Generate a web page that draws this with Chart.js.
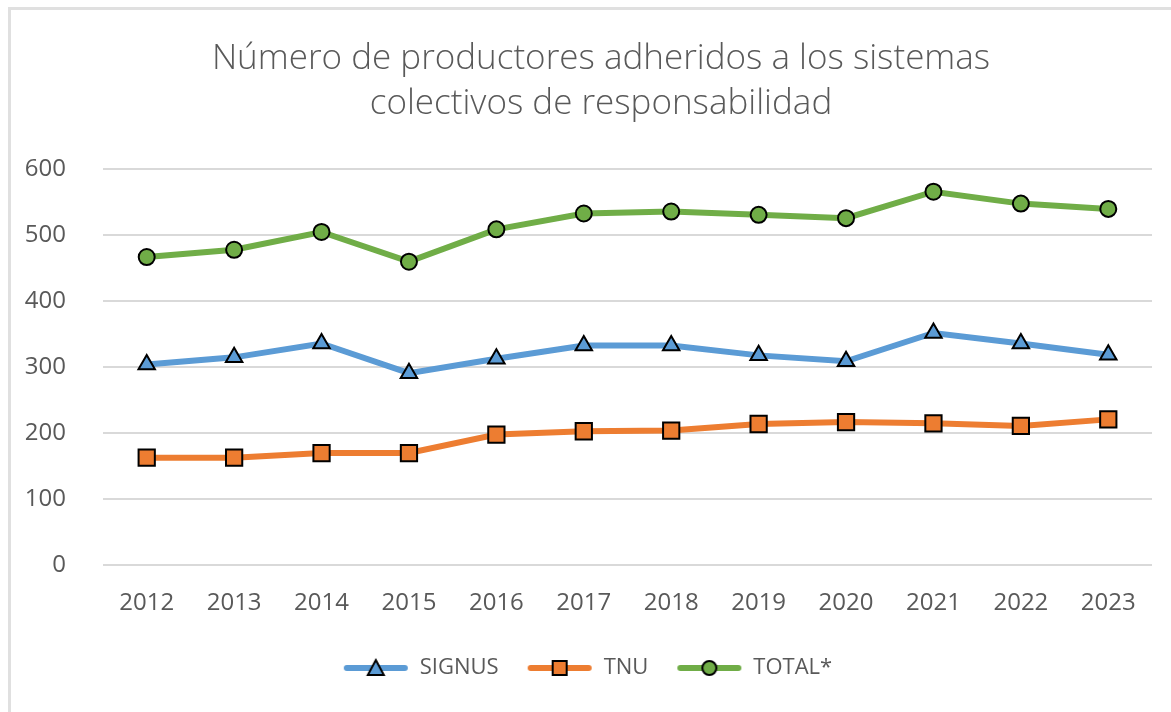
<!DOCTYPE html>
<html>
<head>
<meta charset="utf-8">
<script src="https://cdn.jsdelivr.net/npm/chart.js@4.4.1/dist/chart.umd.min.js"></script>
<style>
  body { margin: 0; background: #fff; }
  #frame {
    position: absolute; left: 8px; top: 7px; width: 1163px; height: 705px;
    border-top: 3px solid #e0e0e0; border-left: 3px solid #e0e0e0;
  }
  #wrap { position: absolute; left: 0; top: 0; width: 1171px; height: 712px; }
</style>
</head>
<body>
<div id="frame"></div>
<div id="wrap"><canvas id="chart"></canvas></div>
<script>
const years = ['2012', '2013', '2014', '2015', '2016', '2017', '2018', '2019', '2020', '2021', '2022', '2023'];
const signus = [304, 315, 336, 291, 313, 333, 333, 318, 309, 352, 336, 319];
const tnu = [163, 163, 170, 170, 198, 203, 204, 214, 217, 215, 211, 221];
const total = [467, 478, 505, 460, 509, 533, 536, 531, 526, 566, 548, 540];
const yTicks = [0, 100, 200, 300, 400, 500, 600];

const GREY = '#595959';
const FONT = "'Open Sans', sans-serif";
const ICON_W = 79; // 13px empty margin on the left, then the 66px line

// legend icon: a short line with the marker on top, like the spreadsheet legend
function legendIcon(color, style) {
  let c = document.createElement('canvas');
  c.width = ICON_W;
  c.height = 22;
  let ctx = c.getContext('2d');
  let x0 = ICON_W - 66;
  let mid = x0 + 33;
  ctx.strokeStyle = color;
  ctx.lineWidth = 6;
  ctx.lineCap = 'round';
  ctx.beginPath();
  ctx.moveTo(x0 + 4, 11);
  ctx.lineTo(x0 + 62, 11);
  ctx.stroke();
  ctx.fillStyle = color;
  ctx.strokeStyle = '#000';
  ctx.lineWidth = 2;
  ctx.lineCap = 'butt';
  ctx.beginPath();
  if (style === 'circle') {
    ctx.arc(mid, 11, 7, 0, Math.PI * 2);
  } else if (style === 'rect') {
    ctx.rect(mid - 7, 4, 14, 14);
  } else {
    ctx.moveTo(mid, 3);
    ctx.lineTo(mid + 8, 18);
    ctx.lineTo(mid - 8, 18);
    ctx.closePath();
  }
  ctx.fill();
  ctx.stroke();
  return c;
}

// chart.js sizes rect/triangle from the radius, so they need a larger one to look the same size
const markerRadius = { circle: 8, rect: 11.5, triangle: 9.5 };

function series(label, data, color, style) {
  return {
    label,
    data,
    borderColor: color,
    backgroundColor: color,
    borderWidth: 6,
    tension: 0,
    pointStyle: style,
    pointRadius: markerRadius[style],
    pointBorderColor: '#000',
    pointBorderWidth: 2,
    pointBackgroundColor: color,
    icon: legendIcon(color, style)
  };
}

// title and legend are centred a little right of the canvas centre in the original
const nudgeBoxes = {
  id: 'nudgeBoxes',
  afterLayout(chart) {
    chart.titleBlock.left += 25;
    chart.titleBlock.right += 25;
    chart.legend.left += 5;
    chart.legend.right += 5;
  }
};

new Chart(document.getElementById('chart'), {
  type: 'line',
  data: {
    labels: years,
    datasets: [
      series('SIGNUS', signus, '#5B9BD5', 'triangle'),
      series('TNU', tnu, '#ED7D31', 'rect'),
      series('TOTAL*', total, '#70AD47', 'circle')
    ]
  },
  plugins: [nudgeBoxes],
  options: {
    responsive: true,
    maintainAspectRatio: false,
    animation: false,
    layout: { padding: { top: 10, left: 0, right: 19, bottom: 23 } },
    plugins: {
      title: {
        display: true,
        text: ['Número de productores adheridos a los sistemas', 'colectivos de responsabilidad'],
        color: GREY,
        font: { family: FONT, size: 35, weight: 300, lineHeight: 1.29 },
        padding: { top: 26, bottom: 43 }
      },
      legend: {
        position: 'bottom',
        labels: {
          usePointStyle: true,
          pointStyleWidth: ICON_W,
          boxHeight: 22,
          padding: 15,
          color: GREY,
          font: { family: FONT, size: 22 },
          generateLabels(chart) {
            return chart.data.datasets.map((ds, i) => ({
              text: ds.label,
              pointStyle: ds.icon,
              fontColor: GREY,
              lineWidth: 0,
              strokeStyle: 'transparent',
              fillStyle: 'transparent',
              hidden: false,
              datasetIndex: i
            }));
          }
        }
      },
      tooltip: { enabled: false }
    },
    scales: {
      x: {
        offset: true,
        grid: { display: false, drawTicks: false },
        border: { display: false },
        ticks: { color: GREY, font: { family: FONT, size: 24 }, padding: 24 }
      },
      y: {
        min: 0,
        max: 600,
        afterBuildTicks(scale) {
          scale.ticks = yTicks.map(v => ({ value: v }));
        },
        afterFit(scale) {
          scale.width = 103;
        },
        grid: { color: '#d9d9d9', lineWidth: 2, drawTicks: false },
        border: { display: false },
        ticks: { color: GREY, font: { family: FONT, size: 24 }, padding: 37 }
      }
    }
  }
});
</script>
</body>
</html>
